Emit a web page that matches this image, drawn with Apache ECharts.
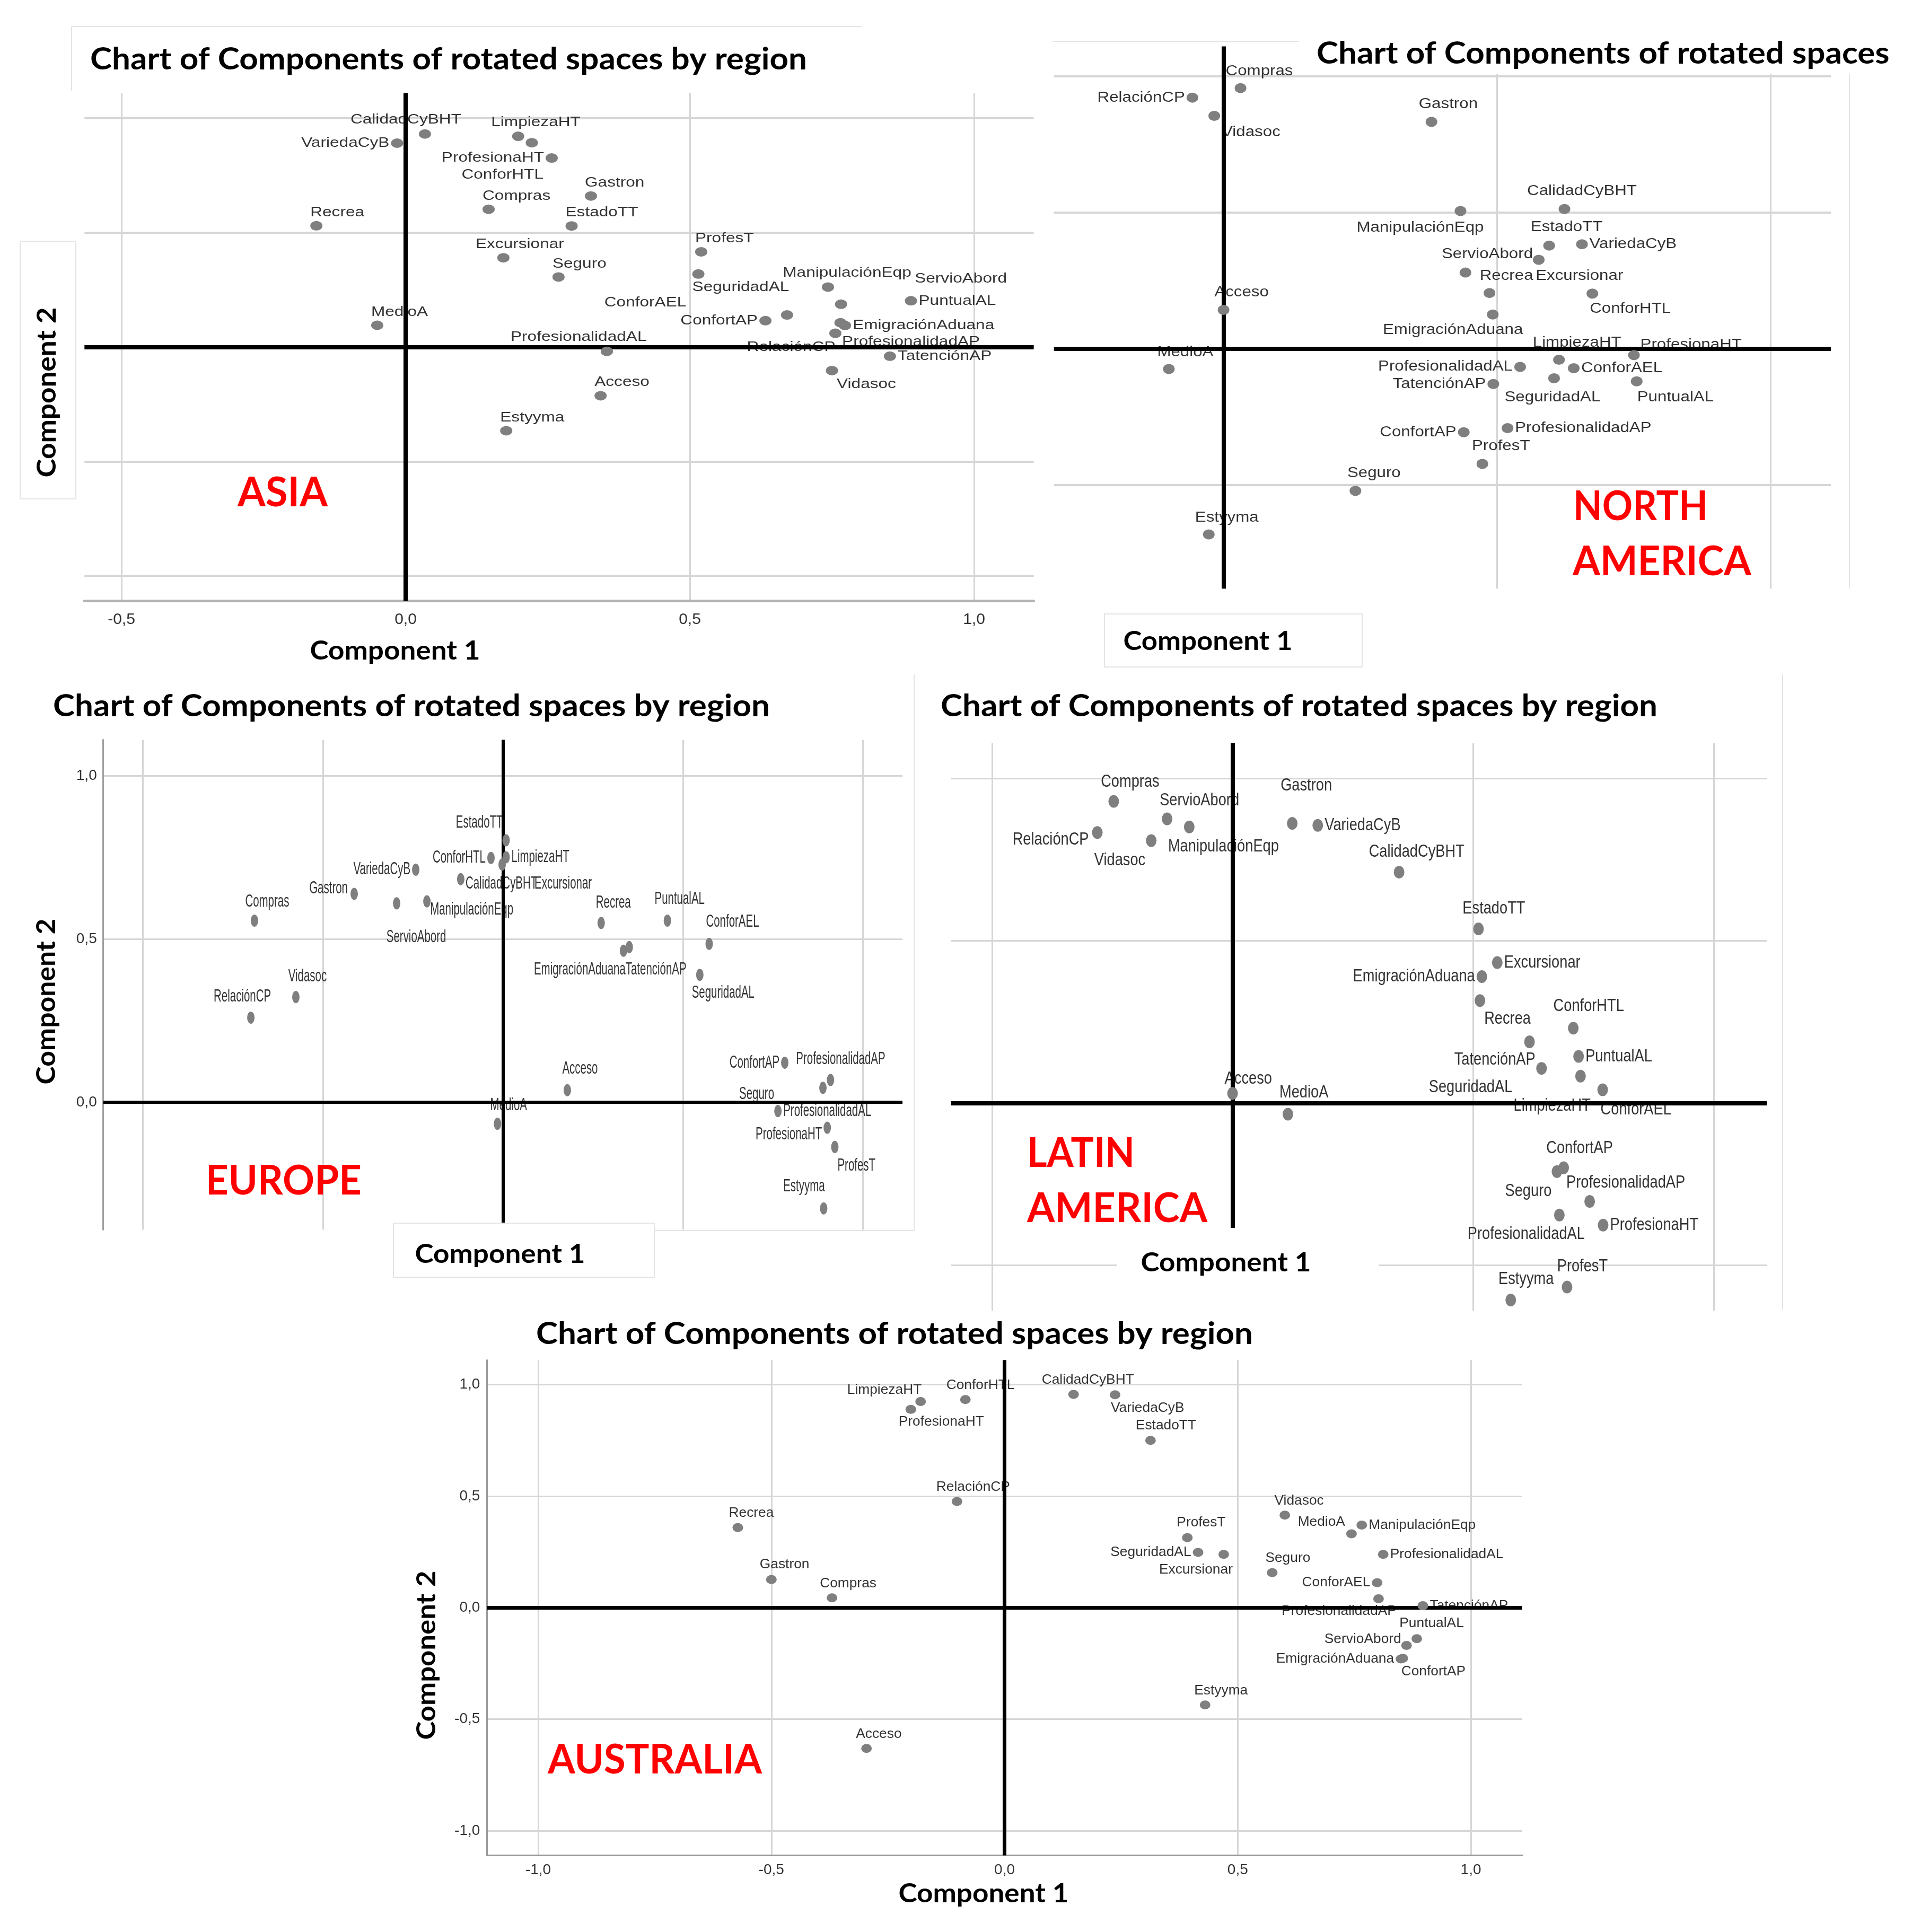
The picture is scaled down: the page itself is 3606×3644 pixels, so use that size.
<!DOCTYPE html>
<html><head><meta charset="utf-8">
<script src="https://cdn.jsdelivr.net/npm/echarts@6/dist/echarts.min.js"></script>
<style>html,body{margin:0;padding:0;background:#fff}#c{width:3606px;height:3644px}</style>
</head><body><div id="c"></div>
<script>
// ---------------- DATA ----------------
const asiaNames = ['CalidadCyBHT','VariedaCyB','LimpiezaHT','ConforHTL','ProfesionaHT','Compras','Gastron','EstadoTT','Recrea','Excursionar','Seguro','MedioA','ProfesT','SeguridadAL','ManipulaciónEqp','ServioAbord','PuntualAL','ConforAEL','ConfortAP','EmigraciónAduana','ProfesionalidadAP','RelaciónCP','ProfesionalidadAL','TatenciónAP','Vidasoc','Acceso','Estyyma'];
const asiaComp1 = [0.034,-0.015,0.198,0.222,0.257,0.146,0.326,0.292,-0.157,0.172,0.269,-0.050,0.520,0.515,0.743,0.766,0.889,0.671,0.633,0.773,0.765,0.756,0.354,0.852,0.750,0.343,0.177];
const asiaComp2 = [0.931,0.891,0.921,0.893,0.826,0.602,0.660,0.529,0.530,0.390,0.306,0.095,0.416,0.319,0.262,0.187,0.202,0.140,0.115,0.094,0.106,0.060,-0.019,-0.040,-0.103,-0.213,-0.366];

const naNames = ['Compras','RelaciónCP','Vidasoc','Gastron','ManipulaciónEqp','CalidadCyBHT','EstadoTT','VariedaCyB','ServioAbord','Recrea','Excursionar','EmigraciónAduana','ConforHTL','LimpiezaHT','ProfesionaHT','ConforAEL','ProfesionalidadAL','SeguridadAL','PuntualAL','TatenciónAP','ProfesionalidadAP','ConfortAP','ProfesT','Seguro','Estyyma','Acceso','MedioA'];
const naComp1 = [0.031,-0.057,-0.017,0.380,0.433,0.623,0.595,0.655,0.576,0.442,0.486,0.492,0.674,0.613,0.750,0.640,0.542,0.604,0.755,0.493,0.519,0.439,0.473,0.241,-0.027,0.000,-0.100];
const naComp2 = [0.957,0.922,0.855,0.833,0.506,0.513,0.379,0.384,0.327,0.280,0.205,0.126,0.203,-0.040,-0.023,-0.071,-0.066,-0.108,-0.119,-0.129,-0.291,-0.306,-0.422,-0.521,-0.681,0.143,-0.074];

const euNames = ['EstadoTT','ConforHTL','LimpiezaHT','Excursionar','CalidadCyBHT','VariedaCyB','Gastron','ServioAbord','ManipulaciónEqp','Compras','Vidasoc','RelaciónCP','Recrea','PuntualAL','ConforAEL','EmigraciónAduana','TatenciónAP','SeguridadAL','Acceso','MedioA','ConfortAP','ProfesionalidadAP','Seguro','ProfesionalidadAL','ProfesionaHT','ProfesT','Estyyma'];
const euComp1 = [0.009,-0.033,0.009,-0.002,-0.117,-0.242,-0.413,-0.295,-0.211,-0.690,-0.575,-0.700,0.273,0.457,0.573,0.335,0.351,0.547,0.179,-0.015,0.783,0.910,0.889,0.764,0.901,0.922,0.891];
const euComp2 = [0.802,0.748,0.750,0.728,0.683,0.712,0.638,0.609,0.615,0.556,0.322,0.259,0.549,0.556,0.485,0.464,0.475,0.390,0.037,-0.066,0.121,0.068,0.044,-0.027,-0.078,-0.137,-0.325];

const laNames = ['Compras','ServioAbord','ManipulaciónEqp','RelaciónCP','Vidasoc','Gastron','VariedaCyB','CalidadCyBHT','Acceso','MedioA','EstadoTT','Excursionar','EmigraciónAduana','Recrea','ConforHTL','TatenciónAP','SeguridadAL','PuntualAL','LimpiezaHT','ConforAEL','Seguro','ConfortAP','ProfesionalidadAP','ProfesionalidadAL','ProfesionaHT','ProfesT','Estyyma'];
const laComp1 = [-0.247,-0.136,-0.090,-0.281,-0.169,0.124,0.177,0.346,0.000,0.115,0.511,0.550,0.518,0.514,0.708,0.617,0.642,0.719,0.723,0.769,0.674,0.688,0.742,0.679,0.770,0.695,0.578];
const laComp2 = [0.930,0.876,0.851,0.834,0.809,0.862,0.856,0.712,0.030,-0.034,0.537,0.433,0.390,0.316,0.231,0.189,0.107,0.144,0.083,0.041,-0.211,-0.199,-0.303,-0.345,-0.376,-0.567,-0.607];

const auNames = ['LimpiezaHT','ProfesionaHT','ConforHTL','RelaciónCP','Recrea','Gastron','Compras','Acceso','CalidadCyBHT','VariedaCyB','EstadoTT','Vidasoc','ProfesT','MedioA','ManipulaciónEqp','SeguridadAL','Excursionar','Seguro','ProfesionalidadAL','ConforAEL','ProfesionalidadAP','TatenciónAP','PuntualAL','ServioAbord','EmigraciónAduana','ConfortAP','Estyyma'];
const auComp1 = [-0.180,-0.201,-0.084,-0.102,-0.572,-0.500,-0.370,-0.296,0.148,0.237,0.313,0.601,0.392,0.744,0.766,0.415,0.470,0.574,0.812,0.799,0.802,0.897,0.884,0.862,0.850,0.854,0.430];
const auComp2 = [0.924,0.889,0.933,0.476,0.359,0.126,0.044,-0.631,0.956,0.954,0.750,0.415,0.314,0.331,0.370,0.248,0.239,0.157,0.239,0.112,0.040,0.009,-0.139,-0.169,-0.230,-0.227,-0.436];

const titleText = 'Chart of Components of rotated spaces by region';
const titleTextNA = 'Chart of Components of rotated spaces';
const axisName1 = 'Component 1';
const axisName2 = 'Component 2';

// ---------------- LABEL PLACEMENT (style) ----------------
const asiaLabelPos = {CalidadCyBHT:[-36,-27,'center'],VariedaCyB:'L',LimpiezaHT:[-51,-26,'left'],ConforHTL:[22,61,'right'],ProfesionaHT:'L',Compras:'TR',Gastron:'TR',EstadoTT:'TR',Recrea:'TR',Excursionar:[31,-26,'center'],Seguro:'TR',MedioA:'TR',ProfesT:'TR',SeguridadAL:'BR','ManipulaciónEqp':[36,-27,'center'],ServioAbord:[139,-48,'left'],PuntualAL:'R',ConforAEL:[-190,-23,'right'],ConfortAP:'L','EmigraciónAduana':'R',ProfesionalidadAP:[3,36,'left'],'RelaciónCP':[0,26,'right'],ProfesionalidadAL:[75,-27,'right'],'TatenciónAP':'R',Vidasoc:[9,26,'left'],Acceso:'TR',Estyyma:'TR'};
const naLabelPos = {Compras:[-28,-32,'left'],'RelaciónCP':'L',Vidasoc:[14,31,'left'],Gastron:[-24,-33,'left'],'ManipulaciónEqp':[44,32,'right'],CalidadCyBHT:[33,-34,'center'],EstadoTT:[33,-35,'center'],VariedaCyB:'R',ServioAbord:[-11,-10,'right'],Recrea:[27,6,'left'],Excursionar:[87,-32,'left'],'EmigraciónAduana':[57,29,'right'],ConforHTL:[-5,29,'left'],LimpiezaHT:[34,-32,'center'],ProfesionaHT:[12,-19,'left'],ConforAEL:'R',ProfesionalidadAL:'L',SeguridadAL:[-3,36,'center'],PuntualAL:[1,30,'left'],'TatenciónAP':'L',ProfesionalidadAP:'R',ConfortAP:'L',ProfesT:[35,-33,'center'],Seguro:[35,-33,'center'],Estyyma:[34,-31,'center'],Acceso:[34,-33,'center'],MedioA:[31,-31,'center']};
const euLabelPos = {EstadoTT:[-6,-33,'right'],ConforHTL:'L',LimpiezaHT:'R',Excursionar:[61,36,'left'],CalidadCyBHT:[9,9,'left'],VariedaCyB:'L',Gastron:[-12,-10,'right'],ServioAbord:[37,64,'center'],'ManipulaciónEqp':[6,16,'left'],Compras:[24,-36,'center'],Vidasoc:[22,-39,'center'],'RelaciónCP':[-16,-40,'center'],Recrea:[23,-38,'center'],PuntualAL:[23,-41,'center'],ConforAEL:[44,-41,'center'],'EmigraciónAduana':[4,36,'right'],'TatenciónAP':[-7,43,'left'],SeguridadAL:[44,34,'center'],Acceso:[24,-40,'center'],MedioA:[21,-35,'center'],ConfortAP:'L',ProfesionalidadAP:[-65,-39,'left'],Seguro:[-92,12,'right'],ProfesionalidadAL:'R',ProfesionaHT:[-10,13,'right'],ProfesT:[5,36,'left'],Estyyma:[-37,-41,'center']};
const laLabelPos = {Compras:[31,-37,'center'],ServioAbord:[-14,-35,'left'],'ManipulaciónEqp':[-40,37,'left'],'RelaciónCP':[-16,14,'right'],Vidasoc:[-11,37,'right'],Gastron:[-22,-71,'left'],VariedaCyB:'R',CalidadCyBHT:[-57,-38,'left'],Acceso:[-15,-27,'left'],MedioA:[-16,-41,'left'],EstadoTT:[29,-38,'center'],Excursionar:'R','EmigraciónAduana':'L',Recrea:[8,35,'left'],ConforHTL:[29,-41,'center'],'TatenciónAP':[11,34,'right'],SeguridadAL:[-55,36,'right'],PuntualAL:'R',LimpiezaHT:[19,56,'right'],ConforAEL:[-4,37,'left'],Seguro:[-10,37,'right'],ConfortAP:[30,-37,'center'],ProfesionalidadAP:[-44,-35,'left'],ProfesionalidadAL:[48,36,'right'],ProfesionaHT:'R',ProfesT:[29,-39,'center'],Estyyma:[29,-39,'center']};
const auLabelPos = {LimpiezaHT:[2,-22,'right'],ProfesionaHT:[-23,24,'left'],ConforHTL:[-36,-27,'left'],'RelaciónCP':[-39,-27,'left'],Recrea:[-17,-27,'left'],Gastron:[-22,-28,'left'],Compras:[-23,-27,'left'],Acceso:[-20,-27,'left'],CalidadCyBHT:[27,-27,'center'],VariedaCyB:[-8,25,'left'],EstadoTT:[-28,-28,'left'],Vidasoc:[27,-27,'center'],ProfesT:[-20,-28,'left'],MedioA:[-12,-22,'right'],'ManipulaciónEqp':'R',SeguridadAL:'L',Excursionar:[17,29,'right'],Seguro:[-13,-27,'left'],ProfesionalidadAL:'R',ConforAEL:'L',ProfesionalidadAP:[34,24,'right'],'TatenciónAP':'R',PuntualAL:[28,-29,'center'],ServioAbord:[-10,-11,'right'],'EmigraciónAduana':'L',ConfortAP:[-3,25,'left'],Estyyma:[30,-27,'center']};

// ---------------- LAYOUT ----------------
const FONT_PT = "'Liberation Sans', Arial, sans-serif";
const FONT_NARROW = "'Liberation Sans Narrow', 'Arial Narrow', 'Liberation Sans', sans-serif";
const FONT_T = "Lato, 'Open Sans', sans-serif";
const mctx = document.createElement('canvas').getContext('2d');
function tw(text, size, family, weight) { mctx.font = (weight || 'normal') + ' ' + size + 'px ' + family; return mctx.measureText(text).width; }
const fmt = v => (Math.abs(v) < 1e-9 ? 0 : v).toFixed(1).replace('.', ',');

const panels = [
  {names: asiaNames, c1: asiaComp1, c2: asiaComp2, pos: asiaLabelPos,
   grid: {left: 159.3, top: 175.5, width: 1790.3, height: 958}, x: [-0.565, 1.105], y: [-1.11, 1.11],
   dot: [23, 18], fs: 26.5, ref: ['CalidadCyBHT', 209], zeroW: 8, gridW: [3, 4],
   xLine: {color: '#b3b3b3', width: 5}, yLine: null, xLab: {fontSize: 30, margin: 20}, yLab: null},
  {names: naNames, c1: naComp1, c2: naComp2, pos: naLabelPos,
   grid: {left: 1987.7, top: 87.5, width: 1465.4, height: 1022.8}, x: [-0.31, 1.11], y: [-0.88, 1.11],
   dot: [22, 19], fs: 27, ref: ['ManipulaciónEqp', 240], zeroW: 8, gridW: [3, 4],
   xLine: null, yLine: null, xLab: null, yLab: null},
  {names: euNames, c1: euComp1, c2: euComp2, pos: euLabelPos,
   grid: {left: 194.7, top: 1395.2, width: 1507.4, height: 924}, x: [-1.11, 1.11], y: [-0.39, 1.11],
   dot: [14, 23], fs: 33, ref: ['ManipulaciónEqp', 157], zeroW: 6, gridW: [3, 3],
   xLine: null, yLine: {color: '#a0a0a0', width: 3}, xLab: null, yLab: {fontSize: 28, margin: 12, fontFamily: FONT_NARROW}},
  {names: laNames, c1: laComp1, c2: laComp2, pos: laLabelPos,
   grid: {left: 1793.6, top: 1401.3, width: 1538.5, height: 1071}, x: [-0.585, 1.11], y: [-0.64, 1.11],
   dot: [20, 24], fs: 33, ref: ['ManipulaciónEqp', 209], zeroW: 8, gridW: [3, 3],
   xLine: null, yLine: null, xLab: null, yLab: null},
  {names: auNames, c1: auComp1, c2: auComp2, pos: auLabelPos,
   grid: {left: 918.3, top: 2565.2, width: 1952.5, height: 934.2}, x: [-1.11, 1.11], y: [-1.11, 1.11],
   dot: [20, 17], fs: 25.5, ref: ['ManipulaciónEqp', 202], zeroW: 7, gridW: [3, 3],
   xLine: {color: '#9a9a9a', width: 3}, yLine: {color: '#9a9a9a', width: 3}, xLab: {fontSize: 28, margin: 14}, yLab: {fontSize: 28, margin: 13}}
];
panels.forEach(p => { p.sx = p.ref[1] / tw(p.ref[0], p.fs, FONT_PT); });

function spec(p, name) {
  const s = p.pos[name] || 'T';
  if (Array.isArray(s)) return s;
  const rw = p.dot[0] / 2, rh = p.dot[1] / 2, g = 3, v = rh + g + p.fs * 0.5;
  switch (s) {
    case 'T': return [0, -v, 'center'];
    case 'TR': return [-rw, -v, 'left'];
    case 'TL': return [rw, -v, 'right'];
    case 'B': return [0, v, 'center'];
    case 'BR': return [-rw, v, 'left'];
    case 'BL': return [rw, v, 'right'];
    case 'L': return [-(rw + g), 0, 'right'];
    default: return [rw + g, 0, 'left'];
  }
}

function mkAxis(p, i, which) {
  const isX = which === 'x';
  const line = isX ? p.xLine : p.yLine;
  const lab = isX ? p.xLab : p.yLab;
  const rng = isX ? p.x : p.y;
  return {
    type: 'value', gridIndex: i, min: rng[0], max: rng[1], minInterval: 0.5, maxInterval: 0.5,
    axisLine: {show: !!line, onZero: false, lineStyle: line || {}},
    axisTick: {show: false},
    axisLabel: lab ? {show: true, formatter: fmt, showMinLabel: false, showMaxLabel: false, color: '#333',
      fontSize: lab.fontSize, margin: lab.margin, fontFamily: lab.fontFamily || FONT_PT} : {show: false},
    splitLine: {show: true, showMinLine: false, showMaxLine: false,
      lineStyle: {color: '#d6d6d6', width: isX ? p.gridW[0] : p.gridW[1]}}
  };
}

const grids = [], xAxes = [], yAxes = [], series = [];
panels.forEach((p, i) => {
  grids.push(Object.assign({outerBoundsMode: 'none', containLabel: false}, p.grid));
  xAxes.push(mkAxis(p, i, 'x'));
  yAxes.push(mkAxis(p, i, 'y'));
  series.push({
    type: 'custom', xAxisIndex: i, yAxisIndex: i, z: 2, silent: true, clip: false,
    data: p.names.map((n, k) => [p.c1[k], p.c2[k], k]),
    renderItem: (params, api) => {
      const k = api.value(2);
      const pt = api.coord([api.value(0), api.value(1)]);
      const s = spec(p, p.names[k]);
      return {type: 'text', x: pt[0] + s[0], y: pt[1] + s[1], scaleX: p.sx,
        style: {text: p.names[k], fontSize: p.fs, fontFamily: FONT_PT, fill: '#333', align: s[2], verticalAlign: 'middle'}};
    }
  });
  series.push({
    type: 'scatter', xAxisIndex: i, yAxisIndex: i, z: 5, silent: true, data: [],
    markLine: {silent: true, symbol: ['none', 'none'], label: {show: false}, animation: false,
      lineStyle: {color: '#000', width: p.zeroW, type: 'solid'}, emphasis: {disabled: true},
      data: [{xAxis: 0}, {yAxis: 0}]}
  });
  series.push({
    type: 'scatter', xAxisIndex: i, yAxisIndex: i, z: 10, silent: true,
    symbol: 'circle', symbolSize: p.dot, itemStyle: {color: '#7f7f7f', opacity: 1},
    data: p.names.map((n, k) => [p.c1[k], p.c2[k]])
  });
});

// ---------------- GRAPHIC TEXT / BOXES ----------------
const gfx = [];
const BORDER = '#e4e4e4';
function box(x, y, w, h, fill, stroke) {
  gfx.push({type: 'rect', z: 100, silent: true, shape: {x, y, width: w, height: h},
    style: {fill: fill || 'none', stroke: stroke || 'none', lineWidth: 2}});
}
function line(x1, y1, x2, y2) {
  gfx.push({type: 'line', z: 100, silent: true, shape: {x1, y1, x2, y2}, style: {stroke: BORDER, lineWidth: 2}});
}
function txt(text, x, y, size, color, targetW, align, rot) {
  const w = tw(text, size, FONT_T, 'bold');
  gfx.push({type: 'text', z: 101, silent: true, x, y, rotation: rot || 0, scaleX: targetW / w,
    style: {text, fontSize: size, fontWeight: 'bold', fontFamily: FONT_T, fill: color,
      align: align || 'left', verticalAlign: 'middle'}});
}

// boxes / panel borders
line(135, 50, 1625, 50); line(135, 50, 135, 171);
box(38, 455, 105, 486, null, BORDER);
line(1985, 78, 2457, 78);
box(2450, 60, 1110, 80, '#fff', null);
line(3488, 140, 3488, 1110);
box(2083, 1158, 486, 100, '#fff', BORDER);
line(1724, 1272, 1724, 2321); line(1234, 2321, 1724, 2321);
box(742, 2307, 492, 102, '#fff', BORDER);
line(3362, 1272, 3362, 2470);
box(2106, 2316, 494, 164, '#fff', null);

// titles
const titleW = 1352;
const tScale = titleW / tw(titleText, 58, FONT_T, 'bold');
[[170, 112, titleText], [2483, 101, titleTextNA], [100, 1332, titleText], [1774, 1332, titleText], [1011, 2516, titleText]].forEach(t => {
  gfx.push({type: 'text', z: 101, silent: true, x: t[0], y: t[1], scaleX: tScale,
    style: {text: t[2], fontSize: 58, fontWeight: 'bold', fontFamily: FONT_T, fill: '#000', align: 'left', verticalAlign: 'middle'}});
});

// axis names
txt(axisName1, 745, 1228, 50, '#000', 321, 'center');
txt(axisName2, 89, 740, 50, '#000', 321, 'center', Math.PI / 2);
txt(axisName1, 2278, 1210, 50, '#000', 319, 'center');
txt(axisName2, 88, 1889, 50, '#000', 313, 'center', Math.PI / 2);
txt(axisName1, 943, 2366, 50, '#000', 321, 'center');
txt(axisName1, 2312, 2382, 50, '#000', 321, 'center');
txt(axisName1, 1855, 3572, 50, '#000', 321, 'center');
txt(axisName2, 805, 3122, 50, '#000', 319, 'center', Math.PI / 2);

// region labels
const RED = '#ff0000';
txt('ASIA', 448, 930, 77, RED, 170);
txt('NORTH', 2967, 956, 77, RED, 254);
txt('AMERICA', 2966, 1060, 77, RED, 337);
txt('EUROPE', 388, 2228, 77, RED, 294);
txt('LATIN', 1937, 2176, 77, RED, 203);
txt('AMERICA', 1937, 2280, 77, RED, 340);
txt('AUSTRALIA', 1033, 3320, 77, RED, 404);

const chart = echarts.init(document.getElementById('c'), null, {renderer: 'canvas'});
chart.setOption({
  backgroundColor: '#fff', animation: false,
  grid: grids, xAxis: xAxes, yAxis: yAxes, series: series,
  graphic: {elements: gfx}
});
</script>
</body></html>
